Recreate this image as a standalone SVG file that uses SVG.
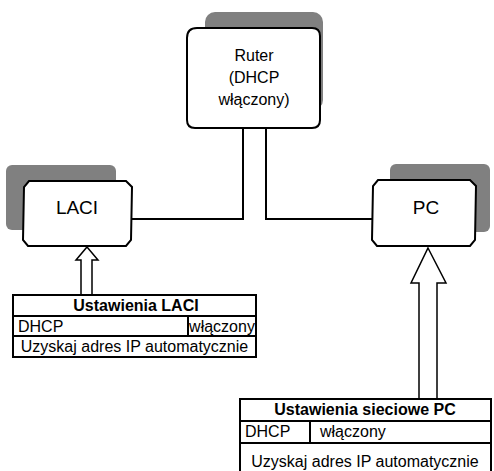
<svg xmlns="http://www.w3.org/2000/svg" width="494" height="471" viewBox="0 0 494 471">
<style>
text{font-family:"Liberation Sans",Arial,sans-serif;font-size:16px;fill:#000}
.c{text-anchor:middle}
.b{font-weight:bold}
.n{font-size:19px}
.sh{fill:#808080;stroke:none}
.bx{fill:#fff;stroke:#000;stroke-width:2}
.ln{fill:none;stroke:#000;stroke-width:2}
.ar{fill:#fff;stroke:#000;stroke-width:1.5}
.tb{fill:#fff;stroke:#000;stroke-width:2}
</style>
<rect width="494" height="471" fill="#fff"/>
<g id="connectors">
<polyline class="ln" points="243,128 243,219 132,219"/>
<polyline class="ln" points="266,128 266,219 372,219"/>
</g>
<g id="router">
<rect class="sh" x="205" y="12" width="118" height="98" rx="10"/>
<path class="bx" d="M197,28 H312 Q320,28 320,36 V120 Q320,128 312,128 H195 Q187,128 187,120 V38 Q187,28 197,28 Z"/>
<text class="c" x="254" y="61">Ruter</text>
<text class="c" x="254" y="83">(DHCP</text>
<text class="c" x="254" y="105">włączony)</text>
</g>
<g id="laci">
<rect class="sh" x="6" y="165" width="110" height="65" rx="6"/>
<polygon class="bx" points="29,181 126,181 132,187 131,240 126,246 28,246 23,240 24,187"/>
<text class="c n" x="77" y="214">LACI</text>
</g>
<g id="pc">
<rect class="sh" x="390" y="164" width="100" height="68" rx="6"/>
<polygon class="bx" points="378,180 470,180 476,186 475,240 470,246 377,246 372,240 373,186"/>
<text class="c n" x="426" y="214">PC</text>
</g>
<g id="arrow-laci">
<polygon class="ar" points="87,247 98,260 92,260 92,297 81,297 81,260 76,260"/>
</g>
<g id="arrow-pc">
<polygon class="ar" points="428,248 446,283 437,283 437,399 419,399 419,283 411,283"/>
</g>
<g id="table-laci">
<rect class="tb" x="13" y="295" width="243" height="62"/>
<line class="ln" x1="13" y1="316" x2="256" y2="316"/>
<line class="ln" x1="13" y1="336" x2="256" y2="336"/>
<line class="ln" x1="188" y1="316" x2="188" y2="336"/>
<text class="c b" x="136" y="311">Ustawienia LACI</text>
<text x="18" y="332">DHCP</text>
<text class="c" x="222" y="332">włączony</text>
<text class="c" x="134.5" y="352">Uzyskaj adres IP automatycznie</text>
</g>
<g id="table-pc">
<rect class="tb" x="240" y="399" width="251" height="80"/>
<line class="ln" x1="240" y1="421" x2="491" y2="421"/>
<line class="ln" x1="240" y1="443" x2="491" y2="443"/>
<line class="ln" x1="310" y1="421" x2="310" y2="443"/>
<text class="c b" x="365" y="415">Ustawienia sieciowe PC</text>
<text x="245" y="437">DHCP</text>
<text x="320" y="437">włączony</text>
<text class="c" x="365" y="467">Uzyskaj adres IP automatycznie</text>
</g>
</svg>
